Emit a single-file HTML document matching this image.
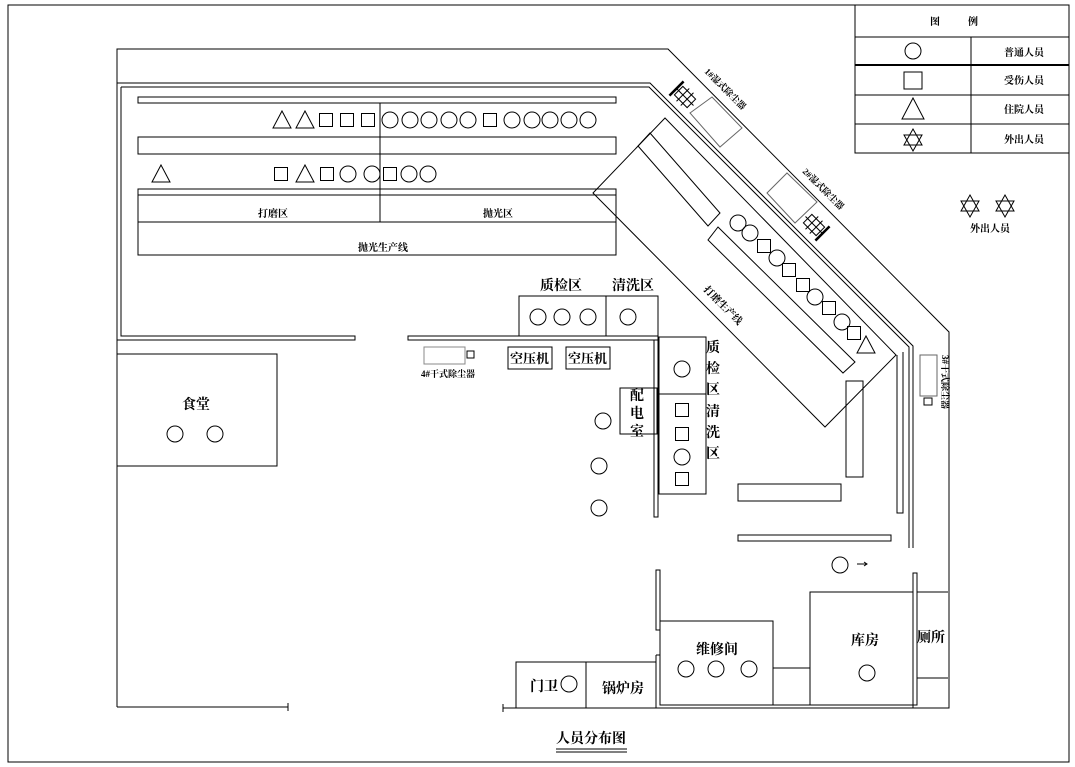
<!DOCTYPE html>
<html><head><meta charset="utf-8"><style>
html,body{margin:0;padding:0;background:#fff}
svg{display:block}
text{font-family:"Liberation Serif","Noto Serif CJK SC","Noto Sans CJK SC",serif;font-weight:bold;fill:#000}
</style></head><body>
<svg width="1075" height="767" viewBox="0 0 1075 767" xmlns="http://www.w3.org/2000/svg" fill="none" stroke="#000" stroke-width="1">
<defs>
<g id="c"><circle r="8"/></g>
<g id="s"><rect x="-6.5" y="-6.5" width="13" height="13"/></g>
<g id="t"><polygon points="0,-9 9,8 -9,8"/></g>
<g id="st"><polygon points="0,-10 9,6 -9,6"/><polygon points="0,12 9,-4 -9,-4"/></g>
<g id="dev"><rect x="-9" y="-6" width="18" height="12"/><line x1="-3" y1="-9" x2="-3" y2="9"/><line x1="3" y1="-9" x2="3" y2="9"/><line x1="-12" y1="0" x2="12" y2="0"/><line x1="-12" y1="-10" x2="-12" y2="10" stroke-width="2.5"/></g>
</defs>
<rect x="8" y="5" width="1061" height="757"/>
<!-- legend -->
<rect x="855" y="5" width="214" height="148"/>
<line x1="855" y1="37" x2="1069" y2="37"/>
<line x1="855" y1="65" x2="1069" y2="65" stroke-width="2"/>
<line x1="855" y1="95" x2="1069" y2="95"/>
<line x1="855" y1="124" x2="1069" y2="124"/>
<line x1="971" y1="37" x2="971" y2="153"/>
<g stroke="none" font-size="10"><text x="930" y="25">图</text><text x="968" y="25">例</text>
<text x="1004" y="56">普通人员</text><text x="1004" y="84">受伤人员</text><text x="1004" y="113">住院人员</text><text x="1004" y="143">外出人员</text></g>
<use href="#c" x="913" y="51"/><rect x="904" y="72" width="18" height="17"/>
<polygon points="913,98 924,119 902,119"/><use href="#st" x="913" y="139"/>
<use href="#st" x="970" y="205"/><use href="#st" x="1005" y="205"/>
<text x="970" y="232" font-size="10" stroke="none">外出人员</text>
<!-- site boundary -->
<polyline points="117,707 117,49 668,49 949,332 949,708 503,708"/>
<line x1="117" y1="707" x2="288" y2="707"/><line x1="288" y1="703" x2="288" y2="711"/><line x1="503" y1="704" x2="503" y2="712"/>
<!-- building walls -->
<polyline points="117,83 650,83 913,346 913,548"/>
<polyline points="121,87 649,87 909,347 909,548"/>
<polyline points="117,83 117,340 355,340 355,336 121,336 121,87"/>
<polyline points="897,355 897,513 903,513 903,352"/>
<rect x="408" y="336" width="250" height="4"/>
<polyline points="654,340 654,517 658,517 658,340"/>
<!-- top lines -->
<rect x="138" y="97" width="478" height="6"/>
<rect x="138" y="137" width="478" height="17"/>
<rect x="138" y="189" width="478" height="66"/>
<line x1="138" y1="195" x2="616" y2="195"/><line x1="138" y1="222" x2="616" y2="222"/>
<line x1="380" y1="103" x2="380" y2="222"/>
<g stroke="none" font-size="10"><text x="258" y="217">打磨区</text><text x="483" y="217">抛光区</text><text x="358" y="251">抛光生产线</text></g>
<use href="#t" x="282" y="120"/><use href="#t" x="305" y="120"/>
<use href="#s" x="326" y="120"/><use href="#s" x="347" y="120"/><use href="#s" x="368" y="120"/>
<use href="#c" x="390" y="120"/><use href="#c" x="410" y="120"/><use href="#c" x="429" y="120"/><use href="#c" x="449" y="120"/><use href="#c" x="468" y="120"/>
<use href="#s" x="490" y="120"/>
<use href="#c" x="512" y="120"/><use href="#c" x="532" y="120"/><use href="#c" x="550" y="120"/><use href="#c" x="569" y="120"/><use href="#c" x="588" y="120"/>
<use href="#t" x="161" y="174"/><use href="#s" x="281" y="174"/><use href="#t" x="305" y="174"/><use href="#s" x="327" y="174"/>
<use href="#c" x="348" y="174"/><use href="#c" x="372" y="174"/><use href="#s" x="390" y="174"/><use href="#c" x="409" y="174"/><use href="#c" x="428" y="174"/>
<!-- diagonal line -->
<polygon points="665,118 593,193 825,427 896,355"/>
<polygon points="650,133 638,146 708,226 720,213"/>
<polygon points="718,227 708,240 843,373 855,362"/>
<text x="0" y="0" font-size="10" stroke="none" transform="translate(703,290) rotate(45)">打磨生产线</text>
<use href="#c" x="738" y="223"/><use href="#c" x="750" y="233"/><use href="#s" x="764" y="246"/><use href="#c" x="777" y="258"/>
<use href="#s" x="789" y="270"/><use href="#s" x="803" y="285"/><use href="#c" x="815" y="297"/><use href="#s" x="829" y="308"/>
<use href="#c" x="842" y="322"/><use href="#s" x="854" y="333"/><use href="#t" x="866" y="345"/>
<!-- dust collectors -->
<polygon points="690,113 712,97 742,128 720,147" stroke="#666"/>
<use href="#dev" transform="translate(685,97) rotate(45)"/>
<text font-size="9" stroke="none" transform="translate(704,72) rotate(45)">1#湿式除尘器</text>
<polygon points="767,193 787,173 817,202 795,223" stroke="#666"/>
<use href="#dev" transform="translate(814,225) rotate(225)"/>
<text font-size="9" stroke="none" transform="translate(802,172) rotate(45)">2#湿式除尘器</text>
<rect x="920" y="355" width="17" height="41" stroke="#666"/><rect x="924" y="398" width="8" height="7"/>
<text font-size="9" stroke="none" transform="translate(942,355) rotate(90)">3#干式除尘器</text>
<!-- middle -->
<rect x="519" y="296" width="87" height="40"/><rect x="606" y="296" width="52" height="40"/>
<g stroke="none" font-size="14"><text x="540" y="290">质检区</text><text x="612" y="290">清洗区</text></g>
<use href="#c" x="538" y="317"/><use href="#c" x="562" y="317"/><use href="#c" x="588" y="317"/><use href="#c" x="628" y="317"/>
<rect x="508" y="347" width="44" height="22"/><rect x="566" y="347" width="44" height="22"/>
<g stroke="none" font-size="13"><text x="510" y="363">空压机</text><text x="568" y="363">空压机</text></g>
<rect x="424" y="347" width="41" height="17" stroke="#888"/><rect x="467" y="351" width="7" height="7"/>
<text x="421" y="377" font-size="9" stroke="none">4#干式除尘器</text>
<rect x="659" y="337" width="47" height="57"/><use href="#c" x="682" y="369"/>
<rect x="659" y="394" width="47" height="100"/>
<use href="#s" x="682" y="410"/><use href="#s" x="682" y="434"/><use href="#c" x="682" y="457"/><use href="#s" x="682" y="479"/>
<g stroke="none" font-size="14"><text x="706" y="352">质</text><text x="706" y="373">检</text><text x="706" y="394">区</text>
<text x="706" y="416">清</text><text x="706" y="437">洗</text><text x="706" y="458">区</text>
<text x="630" y="400">配</text><text x="630" y="418">电</text><text x="630" y="436">室</text></g>
<rect x="620" y="388" width="37" height="46"/>
<use href="#c" x="603" y="421"/><use href="#c" x="599" y="466"/><use href="#c" x="599" y="508"/>
<rect x="846" y="381" width="17" height="96"/><rect x="738" y="484" width="103" height="17"/><rect x="738" y="535" width="153" height="6"/>
<use href="#c" x="840" y="565"/><line x1="857" y1="564" x2="867" y2="564"/><polyline points="864,562 867,564 864,566"/>
<!-- canteen -->
<rect x="117" y="354" width="160" height="112"/>
<text x="182" y="409" font-size="14" stroke="none">食堂</text>
<use href="#c" x="175" y="434"/><use href="#c" x="215" y="434"/>
<!-- bottom -->
<rect x="516" y="662" width="70" height="46"/><rect x="586" y="662" width="70" height="46"/>
<g stroke="none" font-size="14"><text x="530" y="691">门卫</text><text x="602" y="693">锅炉房</text>
<text x="696" y="654">维修间</text><text x="851" y="645">库房</text><text x="917" y="642">厕所</text>
<text x="556" y="743">人员分布图</text></g>
<use href="#c" x="569" y="684"/>
<rect x="656" y="570" width="4" height="60"/>
<polyline points="656,655 656,708 913,708 913,573 917,573 917,705 660,705 660,655 656,655"/>
<rect x="660" y="621" width="113" height="84"/>
<use href="#c" x="686" y="669"/><use href="#c" x="716" y="669"/><use href="#c" x="749" y="669"/>
<line x1="773" y1="668" x2="810" y2="668"/>
<rect x="810" y="592" width="103" height="113"/><use href="#c" x="867" y="673"/>
<polyline points="917,592 948,592"/><polyline points="917,678 948,678"/>
<line x1="556" y1="749" x2="627" y2="749"/><line x1="556" y1="752" x2="627" y2="752"/>
</svg>
</body></html>
